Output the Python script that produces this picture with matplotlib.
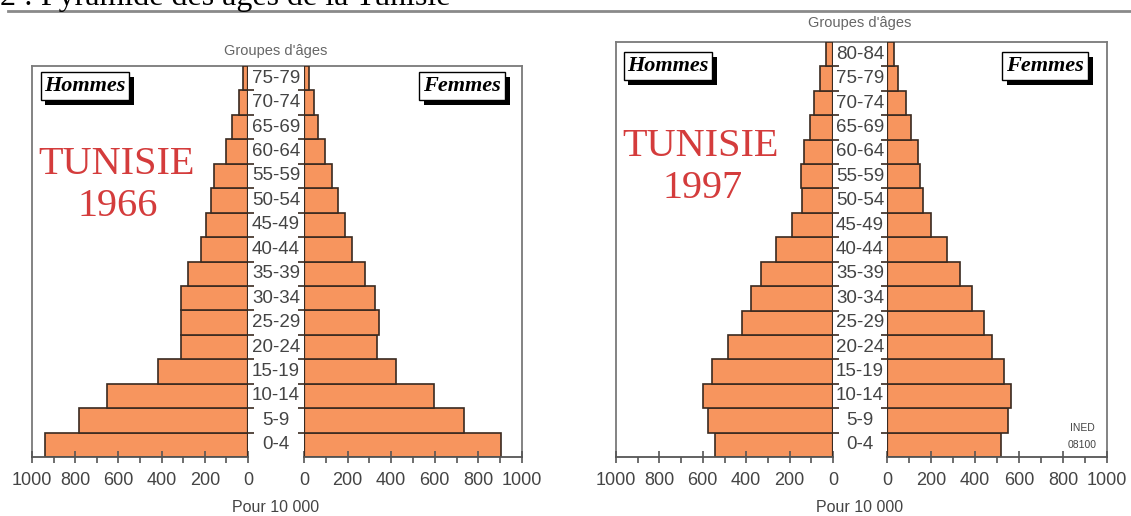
import matplotlib
matplotlib.use('Agg')
from matplotlib import pyplot as plt
from matplotlib import patheffects
from matplotlib.ticker import MultipleLocator
import numpy as np


# data (pour 10 000), from 0-4 upwards
ages_1966 = ['0-4', '5-9', '10-14', '15-19', '20-24', '25-29', '30-34', '35-39',
             '40-44', '45-49', '50-54', '55-59', '60-64', '65-69', '70-74', '75-79']
men_1966 = [940, 783, 655, 415, 310, 310, 310, 280, 218, 195, 172, 157, 100, 75, 42, 25]
women_1966 = [905, 732, 596, 421, 337, 345, 326, 280, 221, 189, 157, 130, 97, 64, 46, 22]

ages_1997 = ages_1966 + ['80-84']
men_1997 = [545, 576, 599, 556, 485, 420, 376, 334, 264, 188, 142, 146, 134, 105, 88, 58, 33]
women_1997 = [516, 550, 562, 532, 476, 441, 386, 331, 272, 202, 164, 148, 139, 107, 87, 52, 30]

W, H = 1131, 516
bar_color = '#f7955e'
edge_color = '#3a2a20'
frame_color = '#7a7a7a'
axis_color = '#555555'
text_color = '#444444'
red = '#d43c3c'
sans = ['Liberation Sans', 'DejaVu Sans']
serif = ['Liberation Serif', 'DejaVu Serif']

fig = plt.figure(figsize=(W / 100, H / 100), dpi=100, facecolor='w')


def fig_box(x0, x1, ytop, ybot):
    return [x0 / W, 1 - ybot / H, (x1 - x0) / W, (ybot - ytop) / H]


def sex_label(x, y, s):
    t = fig.text(x / W, 1 - y / H, s, ha='center', va='center', family=serif,
                 style='italic', weight='bold', fontsize=16, color='k',
                 bbox=dict(boxstyle='square,pad=0.17', fc='w', ec='k', lw=1.0))
    t.get_bbox_patch().set_path_effects([
        patheffects.SimplePatchShadow(offset=(3.5, -3.5), shadow_rgbFace='k', alpha=1.0),
        patheffects.Normal()])


def pyramid(ages, men, women, xm, xw, ytop, ybot, head_gap):
    n = len(ages)
    y = np.arange(n)

    frame = fig.add_axes(fig_box(xm[0], xw[1], ytop, ybot), zorder=0)
    frame.set_xticks([])
    frame.set_yticks([])
    frame.patch.set_alpha(0)
    frame.spines['bottom'].set_visible(False)
    for s in ['left', 'top', 'right']:
        frame.spines[s].set_color(frame_color)
        frame.spines[s].set_linewidth(1.3)

    ax_m = fig.add_axes(fig_box(xm[0], xm[1], ytop, ybot), zorder=1)
    ax_f = fig.add_axes(fig_box(xw[0], xw[1], ytop, ybot), zorder=1)
    ax_c = fig.add_axes(fig_box(xm[1], xw[0], ytop, ybot), zorder=1)

    ax_m.barh(y, men, height=1.0, color=bar_color, edgecolor=edge_color, linewidth=1.2)
    ax_f.barh(y, women, height=1.0, color=bar_color, edgecolor=edge_color, linewidth=1.2)
    ax_m.set_xlim(1000, 0)
    ax_f.set_xlim(0, 1000)
    ax_m.yaxis.tick_right()

    for ax in (ax_m, ax_f):
        ax.set_ylim(-0.5, n - 0.5)
        ax.patch.set_alpha(0)
        ax.axvline(0, color=edge_color, lw=1.6)
        for s in ['left', 'top', 'right']:
            ax.spines[s].set_visible(False)
        ax.spines['bottom'].set_color(axis_color)
        ax.spines['bottom'].set_linewidth(1.3)
        ax.xaxis.set_major_locator(MultipleLocator(200))
        ax.xaxis.set_minor_locator(MultipleLocator(100))
        ax.tick_params(axis='x', which='major', direction='inout', length=9, width=1.2,
                       color=axis_color, pad=6, labelsize=13, labelcolor=text_color)
        ax.tick_params(axis='x', which='minor', length=4.5, width=1.2, color=axis_color)
        for lab in ax.get_xticklabels():
            lab.set_family(sans)
        ax.set_yticks(np.arange(1, n) - 0.5)
        ax.tick_params(axis='y', length=4, width=1.2, color=edge_color,
                       labelleft=False, labelright=False)

    ax_c.set_ylim(-0.5, n - 0.5)
    ax_c.set_xlim(0, 1)
    ax_c.axis('off')
    for i, a in enumerate(ages):
        ax_c.text(0.5, i, a, ha='center', va='center', family=sans,
                  fontsize=13.5, color=text_color)
    ax_c.annotate("Groupes d'âges", (0.5, 1), xycoords='axes fraction',
                  xytext=(0, head_gap), textcoords='offset points', ha='center',
                  va='center', family=sans, fontsize=10.5, color='#666666')
    ax_c.annotate('Pour 10 000', (0.5, 0), xycoords='axes fraction',
                  xytext=(0, -36), textcoords='offset points', ha='center',
                  va='center', family=sans, fontsize=11.5, color=text_color)


pyramid(ages_1966, men_1966, women_1966, (32, 248), (304, 522), 66, 457, 10.5)
pyramid(ages_1997, men_1997, women_1997, (616, 833), (887, 1107), 42, 457, 13.5)

sex_label(85, 86, 'Hommes')
sex_label(462, 86, 'Femmes')
sex_label(668, 66, 'Hommes')
sex_label(1045, 66, 'Femmes')

fig.text(117 / W, 1 - 165 / H, 'TUNISIE', ha='center', va='center', family=serif,
         fontsize=29, color=red)
fig.text(118 / W, 1 - 207 / H, '1966', ha='center', va='center', family=serif,
         fontsize=29, color=red)
fig.text(701 / W, 1 - 146 / H, 'TUNISIE', ha='center', va='center', family=serif,
         fontsize=29, color=red)
fig.text(703 / W, 1 - 188 / H, '1997', ha='center', va='center', family=serif,
         fontsize=29, color=red)

fig.text(1082 / W, 1 - 428 / H, 'INED', ha='center', va='center', family=sans,
         fontsize=7.5, color=text_color)
fig.text(1082 / W, 1 - 445 / H, '08100', ha='center', va='center', family=sans,
         fontsize=7.5, color=text_color)

# page title, cut by the top of the picture
fig.text(0.0, 1 - 5 / H, '2 : Pyramide des âges de la Tunisie', ha='left',
         va='baseline', family=serif, fontsize=23, color='k')
fig.add_artist(plt.Line2D([8 / W, 1], [1 - 11 / H, 1 - 11 / H], color='#8a8a8a', lw=2))

fig.savefig('out.png', dpi=100, facecolor='w')
